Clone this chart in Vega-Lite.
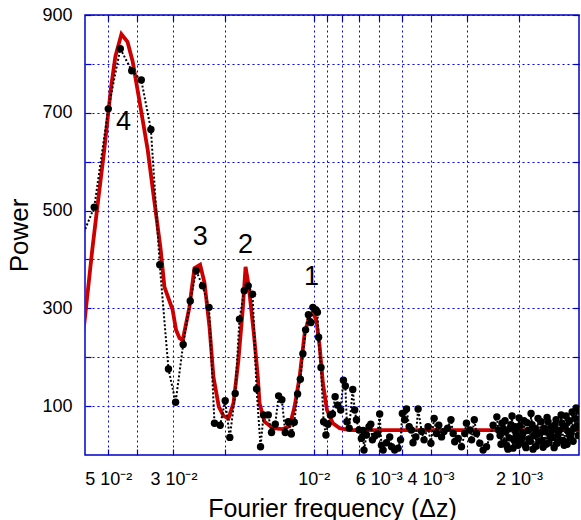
{
  "$schema": "https://vega.github.io/schema/vega-lite/v6.json",
  "width": 494,
  "height": 440,
  "autosize": "none",
  "padding": {"left": 85, "top": 15, "right": 2, "bottom": 65},
  "background": "white",
  "config": {
    "font": "Liberation Sans",
    "view": {"stroke": "#0000cc", "strokeWidth": 1.5},
    "axis": {"domain": false, "labelFont": "Liberation Sans", "titleFont": "Liberation Sans", "labelColor": "black", "titleColor": "black", "titleFontWeight": "normal", "tickColor": "#0000cc", "tickWidth": 1.2}
  },
  "datasets": {
    "obs": [
      {"f": 0.0628, "P": 432}, {"f": 0.0558, "P": 507}, {"f": 0.05, "P": 708}, {"f": 0.0455, "P": 831},
      {"f": 0.0416, "P": 786}, {"f": 0.0386, "P": 767}, {"f": 0.0358, "P": 666}, {"f": 0.0334, "P": 389},
      {"f": 0.0312, "P": 176}, {"f": 0.0295, "P": 108}, {"f": 0.0278, "P": 226}, {"f": 0.0263, "P": 315},
      {"f": 0.0251, "P": 377}, {"f": 0.0239, "P": 346}, {"f": 0.0227, "P": 302}, {"f": 0.02175, "P": 65},
      {"f": 0.0208, "P": 61}, {"f": 0.02, "P": 111}, {"f": 0.01929, "P": 36}, {"f": 0.01849, "P": 126},
      {"f": 0.01788, "P": 278}, {"f": 0.01723, "P": 336}, {"f": 0.0167, "P": 346}, {"f": 0.01614, "P": 329},
      {"f": 0.01564, "P": 135}, {"f": 0.01516, "P": 17}, {"f": 0.01481, "P": 82}, {"f": 0.01427, "P": 82},
      {"f": 0.01391, "P": 46}, {"f": 0.01351, "P": 63}, {"f": 0.01316, "P": 121}, {"f": 0.01283, "P": 113},
      {"f": 0.01249, "P": 46}, {"f": 0.0122, "P": 68}, {"f": 0.01191, "P": 43}, {"f": 0.01164, "P": 67},
      {"f": 0.01134, "P": 125}, {"f": 0.0111, "P": 155}, {"f": 0.01088, "P": 207}, {"f": 0.01065, "P": 256},
      {"f": 0.01042, "P": 287}, {"f": 0.01021, "P": 271}, {"f": 0.01006, "P": 302}, {"f": 0.00984, "P": 297},
      {"f": 0.00971, "P": 292}, {"f": 0.00962, "P": 241}, {"f": 0.00944, "P": 179}, {"f": 0.00925, "P": 68},
      {"f": 0.00908, "P": 41}, {"f": 0.00894, "P": 63}, {"f": 0.00877, "P": 82}, {"f": 0.00863, "P": 84},
      {"f": 0.00845, "P": 119}, {"f": 0.00828, "P": 102}, {"f": 0.00809, "P": 92}, {"f": 0.00792, "P": 153},
      {"f": 0.0078, "P": 141}, {"f": 0.00771, "P": 68}, {"f": 0.00757, "P": 55}, {"f": 0.00736, "P": 134},
      {"f": 0.00725, "P": 92}, {"f": 0.00715, "P": 72}, {"f": 0.00701, "P": 51}, {"f": 0.00688, "P": 34},
      {"f": 0.00679, "P": 50}, {"f": 0.00674, "P": 10}, {"f": 0.00661, "P": 41}, {"f": 0.00648, "P": 58},
      {"f": 0.00639, "P": 63}, {"f": 0.00631, "P": 31}, {"f": 0.00619, "P": 39}, {"f": 0.00606, "P": 43},
      {"f": 0.00596, "P": 84}, {"f": 0.00588, "P": 20}, {"f": 0.0058, "P": 10}, {"f": 0.00565, "P": 25},
      {"f": 0.00551, "P": 37}, {"f": 0.00543, "P": 17}, {"f": 0.0053, "P": 10}, {"f": 0.00516, "P": 14},
      {"f": 0.00506, "P": 31}, {"f": 0.00499, "P": 85}, {"f": 0.0049, "P": 72}, {"f": 0.00483, "P": 94},
      {"f": 0.00473, "P": 58}, {"f": 0.00465, "P": 51}, {"f": 0.00459, "P": 25}, {"f": 0.00449, "P": 37},
      {"f": 0.00441, "P": 94}, {"f": 0.00429, "P": 48}, {"f": 0.00421, "P": 31}, {"f": 0.00408, "P": 58},
      {"f": 0.00399, "P": 24}, {"f": 0.00389, "P": 75}, {"f": 0.00382, "P": 44}, {"f": 0.00375, "P": 61},
      {"f": 0.00367, "P": 37}, {"f": 0.0036, "P": 48}, {"f": 0.0035, "P": 55}, {"f": 0.00341, "P": 72},
      {"f": 0.00335, "P": 44}, {"f": 0.00331, "P": 27}, {"f": 0.00322, "P": 34}, {"f": 0.00314, "P": 17},
      {"f": 0.00306, "P": 44}, {"f": 0.00302, "P": 65}, {"f": 0.00294, "P": 51}, {"f": 0.0029, "P": 31},
      {"f": 0.00284, "P": 72}, {"f": 0.00279, "P": 44}, {"f": 0.00272, "P": 24}, {"f": 0.00265, "P": 10},
      {"f": 0.00258, "P": 17}, {"f": 0.00251, "P": 37}, {"f": 0.00245, "P": 61}, {"f": 0.00238, "P": 78},
      {"f": 0.00235, "P": 51}, {"f": 0.00232, "P": 40}, {"f": 0.002303, "P": 22}, {"f": 0.002286, "P": 65},
      {"f": 0.002268, "P": 52}, {"f": 0.00225, "P": 25}, {"f": 0.002232, "P": 70}, {"f": 0.002215, "P": 48},
      {"f": 0.002198, "P": 18}, {"f": 0.002181, "P": 12}, {"f": 0.002163, "P": 35}, {"f": 0.002146, "P": 55},
      {"f": 0.00213, "P": 62}, {"f": 0.002113, "P": 80}, {"f": 0.002096, "P": 14}, {"f": 0.00208, "P": 30},
      {"f": 0.002064, "P": 58}, {"f": 0.002048, "P": 45}, {"f": 0.002032, "P": 38}, {"f": 0.002016, "P": 20},
      {"f": 0.002, "P": 76}, {"f": 0.001984, "P": 60}, {"f": 0.001968, "P": 26}, {"f": 0.001953, "P": 35},
      {"f": 0.001938, "P": 45}, {"f": 0.001923, "P": 70}, {"f": 0.001908, "P": 20}, {"f": 0.001893, "P": 15},
      {"f": 0.001878, "P": 66}, {"f": 0.001863, "P": 50}, {"f": 0.001848, "P": 33}, {"f": 0.001834, "P": 28},
      {"f": 0.00182, "P": 85}, {"f": 0.001806, "P": 62}, {"f": 0.001792, "P": 12}, {"f": 0.001778, "P": 40},
      {"f": 0.001764, "P": 54}, {"f": 0.00175, "P": 18}, {"f": 0.001736, "P": 42}, {"f": 0.001723, "P": 75},
      {"f": 0.001709, "P": 28}, {"f": 0.001696, "P": 45}, {"f": 0.001682, "P": 68}, {"f": 0.001669, "P": 30},
      {"f": 0.001656, "P": 16}, {"f": 0.001643, "P": 55}, {"f": 0.00163, "P": 48}, {"f": 0.001618, "P": 22},
      {"f": 0.001605, "P": 77}, {"f": 0.001593, "P": 68}, {"f": 0.00158, "P": 25}, {"f": 0.001568, "P": 38},
      {"f": 0.001555, "P": 58}, {"f": 0.001543, "P": 50}, {"f": 0.001531, "P": 36}, {"f": 0.001519, "P": 15},
      {"f": 0.001507, "P": 62}, {"f": 0.001496, "P": 72}, {"f": 0.001484, "P": 24}, {"f": 0.001472, "P": 42},
      {"f": 0.00146, "P": 50}, {"f": 0.001449, "P": 30}, {"f": 0.001438, "P": 82}, {"f": 0.001427, "P": 65},
      {"f": 0.001415, "P": 30}, {"f": 0.001404, "P": 20}, {"f": 0.001393, "P": 58}, {"f": 0.001383, "P": 80},
      {"f": 0.001372, "P": 22}, {"f": 0.001361, "P": 48}, {"f": 0.00135, "P": 70}, {"f": 0.00134, "P": 35},
      {"f": 0.00133, "P": 45}, {"f": 0.001319, "P": 88}, {"f": 0.001309, "P": 28}, {"f": 0.001299, "P": 55},
      {"f": 0.001288, "P": 75}, {"f": 0.001278, "P": 96}, {"f": 0.001268, "P": 60}, {"f": 0.001258, "P": 40},
      {"f": 0.00125, "P": 90}
    ],
    "fit": [
      {"f": 0.0613, "P": 240}, {"f": 0.0604, "P": 266}, {"f": 0.0566, "P": 423}, {"f": 0.0541, "P": 522},
      {"f": 0.0516, "P": 624}, {"f": 0.0489, "P": 753}, {"f": 0.0473, "P": 815}, {"f": 0.0451, "P": 861},
      {"f": 0.043, "P": 845}, {"f": 0.0413, "P": 805}, {"f": 0.0392, "P": 726}, {"f": 0.0367, "P": 624},
      {"f": 0.0349, "P": 522}, {"f": 0.0332, "P": 423}, {"f": 0.0322, "P": 344}, {"f": 0.0302, "P": 297},
      {"f": 0.0294, "P": 256}, {"f": 0.0286, "P": 239}, {"f": 0.0279, "P": 235}, {"f": 0.0265, "P": 301},
      {"f": 0.02545, "P": 382}, {"f": 0.02434, "P": 389}, {"f": 0.02352, "P": 352}, {"f": 0.02262, "P": 262},
      {"f": 0.02193, "P": 160}, {"f": 0.02103, "P": 99}, {"f": 0.02027, "P": 80}, {"f": 0.01949, "P": 75},
      {"f": 0.01874, "P": 106}, {"f": 0.01803, "P": 194}, {"f": 0.01742, "P": 300}, {"f": 0.01705, "P": 385},
      {"f": 0.01662, "P": 344}, {"f": 0.01598, "P": 249}, {"f": 0.01549, "P": 160}, {"f": 0.01528, "P": 106},
      {"f": 0.01469, "P": 68}, {"f": 0.01377, "P": 55}, {"f": 0.01273, "P": 53}, {"f": 0.01207, "P": 59},
      {"f": 0.01161, "P": 99}, {"f": 0.01116, "P": 160}, {"f": 0.01073, "P": 249}, {"f": 0.01032, "P": 286},
      {"f": 0.01006, "P": 291}, {"f": 0.00979, "P": 276}, {"f": 0.00954, "P": 222}, {"f": 0.0093, "P": 147},
      {"f": 0.00901, "P": 92}, {"f": 0.0086, "P": 65}, {"f": 0.00816, "P": 55}, {"f": 0.00754, "P": 51},
      {"f": 0.006, "P": 51}, {"f": 0.004, "P": 51}, {"f": 0.002, "P": 51}, {"f": 0.00125, "P": 51}
    ],
    "labels": [
      {"f": 0.0444, "P": 681, "t": "4"},
      {"f": 0.0243, "P": 446, "t": "3"},
      {"f": 0.01705, "P": 430, "t": "2"},
      {"f": 0.01016, "P": 364, "t": "1"}
    ]
  },
  "resolve": {"axis": {"x": "independent", "y": "independent"}},
  "layer": [
    {
      "data": {"name": "fit"},
      "mark": {"type": "line", "color": "#cc0000", "strokeWidth": 3.8, "clip": true},
      "encoding": {
        "x": {
          "field": "f", "type": "quantitative",
          "scale": {"type": "log", "domain": [0.00125, 0.06], "reverse": true, "nice": false},
          "axis": {
            "orient": "bottom",
            "title": "Fourier frequency (Δz)",
            "titleFontSize": 25, "titlePadding": 8,
            "values": [0.05, 0.04, 0.03, 0.02, 0.01, 0.009, 0.008, 0.007, 0.006, 0.005, 0.004, 0.003, 0.002],
            "labelExpr": "abs(datum.value-0.05)<1e-9 ? '5 10⁻²' : abs(datum.value-0.03)<1e-9 ? '3 10⁻²' : abs(datum.value-0.01)<1e-9 ? '10⁻²' : abs(datum.value-0.006)<1e-9 ? '6 10⁻³' : abs(datum.value-0.004)<1e-9 ? '4 10⁻³' : abs(datum.value-0.002)<1e-9 ? '2 10⁻³' : ''",
            "labelFontSize": 18, "labelPadding": 21, "labelOverlap": false, "labelFlush": false,
            "tickSize": -6,
            "grid": true, "gridColor": "#0000ff", "gridDash": [2, 3], "gridWidth": 1
          }
        },
        "y": {
          "field": "P", "type": "quantitative",
          "scale": {"domain": [0, 900], "nice": false, "zero": true},
          "axis": {
            "orient": "left",
            "title": "Power", "titleFontSize": 26, "titlePadding": 9,
            "values": [100, 200, 300, 400, 500, 600, 700, 800, 900],
            "labelExpr": "datum.value % 200 == 100 ? datum.label : ''",
            "labelFontSize": 18, "labelPadding": 19, "labelOverlap": false,
            "tickSize": -6,
            "grid": true, "gridColor": "#0000ff", "gridDash": [2, 3], "gridWidth": 1
          }
        }
      }
    },
    {
      "data": {"name": "obs"},
      "mark": {"type": "line", "color": "black", "strokeWidth": 2, "strokeDash": [2, 2], "clip": true},
      "encoding": {
        "x": {"field": "f", "type": "quantitative",
          "axis": {"orient": "top", "labels": false, "title": null, "grid": false, "tickSize": -6,
            "values": [0.05, 0.04, 0.03, 0.02, 0.01, 0.009, 0.008, 0.007, 0.006, 0.005, 0.004, 0.003, 0.002]}},
        "y": {"field": "P", "type": "quantitative",
          "axis": {"orient": "right", "labels": false, "title": null, "grid": false, "tickSize": -6,
            "values": [100, 200, 300, 400, 500, 600, 700, 800, 900]}}
      }
    },
    {
      "data": {"name": "obs"},
      "mark": {"type": "point", "filled": true, "color": "black", "size": 55, "opacity": 1, "clip": true},
      "encoding": {
        "x": {"field": "f", "type": "quantitative", "axis": null},
        "y": {"field": "P", "type": "quantitative", "axis": null}
      }
    },
    {
      "data": {"name": "labels"},
      "mark": {"type": "text", "fontSize": 27, "font": "Liberation Sans", "color": "black", "align": "center", "baseline": "middle"},
      "encoding": {
        "x": {"field": "f", "type": "quantitative", "axis": null},
        "y": {"field": "P", "type": "quantitative", "axis": null},
        "text": {"field": "t"}
      }
    }
  ]
}
